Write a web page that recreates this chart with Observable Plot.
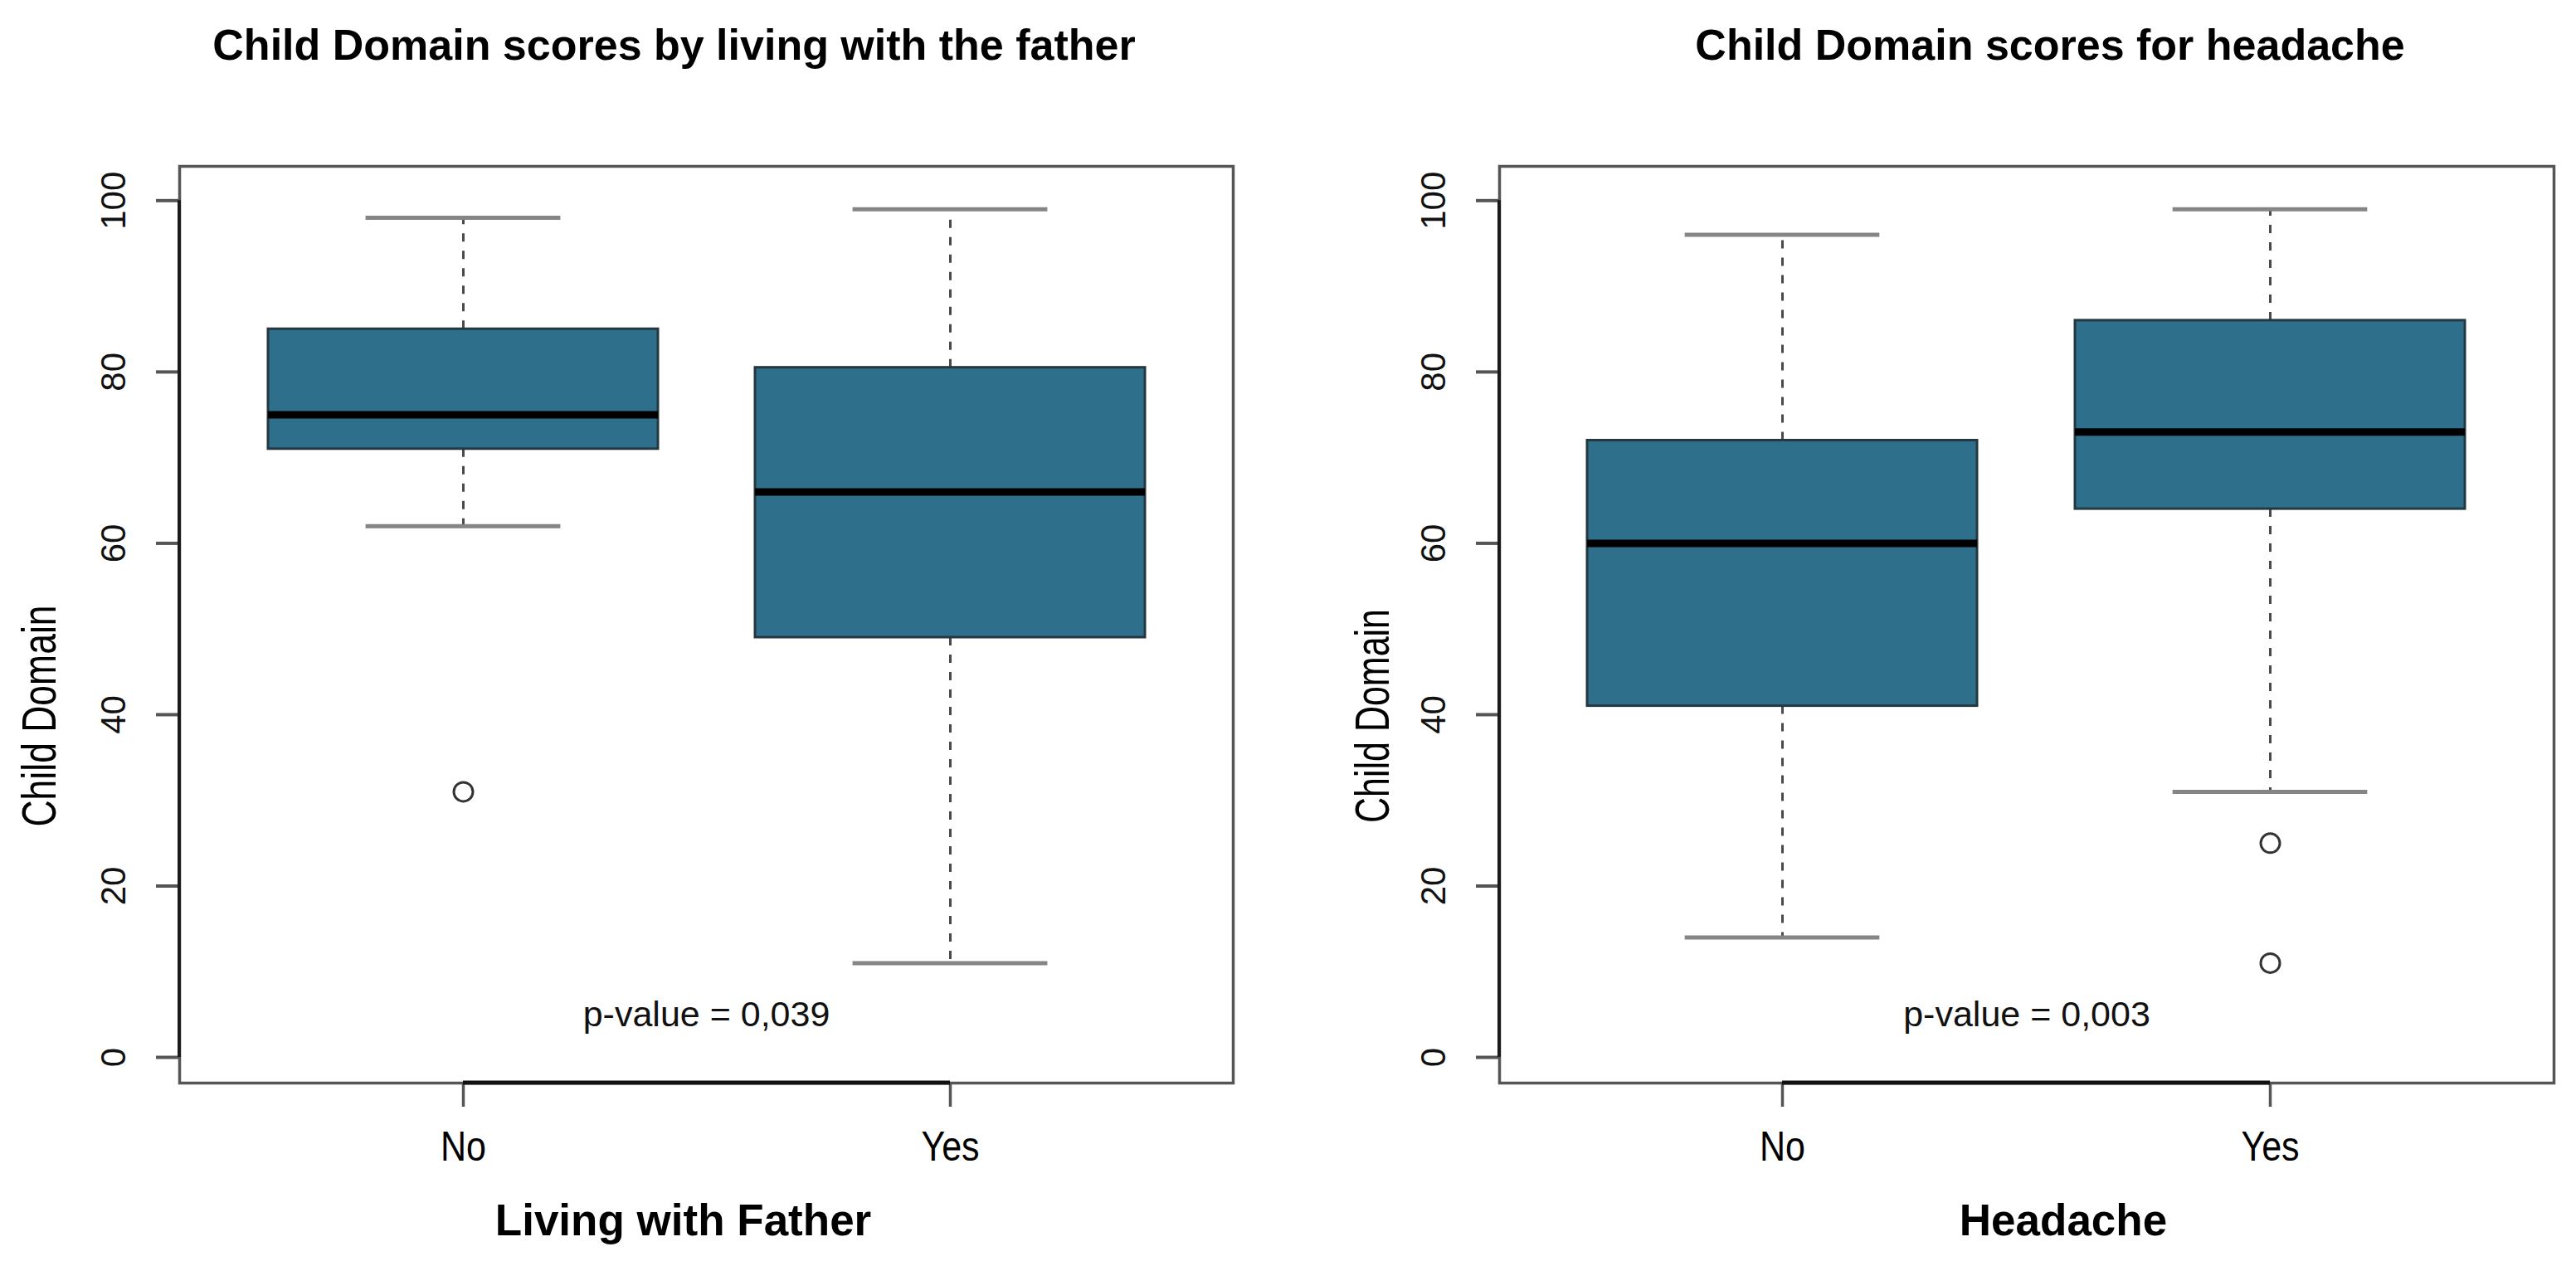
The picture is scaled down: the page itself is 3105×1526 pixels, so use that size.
<!DOCTYPE html>
<html><head><meta charset="utf-8">
<script src="https://cdn.jsdelivr.net/npm/d3@7"></script>
<script src="https://cdn.jsdelivr.net/npm/@observablehq/plot@0.6"></script>
<style>
html,body{margin:0;padding:0;background:#fff;}
#wrap{display:flex;width:3105px;height:1526px;overflow:hidden;}
#wrap svg{display:block;flex:none;}
</style></head>
<body><div id="wrap"></div>
<script>
// ---------- data ----------
const groups = ["No", "Yes"];
const yTicks = [0, 20, 40, 60, 80, 100];
const yLabel = "Child Domain";

const fatherTitle = "Child Domain scores by living with the father";
const fatherXLabel = "Living with Father";
const fatherPValue = "p-value = 0,039";
const fatherLower = [62, 11];
const fatherQ1 = [71, 49];
const fatherMedian = [75, 66];
const fatherQ3 = [85, 80.5];
const fatherUpper = [98, 99];
const fatherOutlierGroups = ["No"];
const fatherOutlierValues = [31];

const headacheTitle = "Child Domain scores for headache";
const headacheXLabel = "Headache";
const headachePValue = "p-value = 0,003";
const headacheLower = [14, 31];
const headacheQ1 = [41, 64];
const headacheMedian = [60, 73];
const headacheQ3 = [72, 86];
const headacheUpper = [96, 99];
const headacheOutlierGroups = ["Yes", "Yes"];
const headacheOutlierValues = [25, 11];

const pValueY = 5; // annotation position in data units

// ---------- drawing ----------
const H = 1526, MT = 200, MB = 221;
const FONT = "'Liberation Sans', Arial, Helvetica, sans-serif";

function panel(o) {
  const frameW = o.width - o.marginLeft - o.marginRight;
  const step = frameW / 2.16;
  const capInset = step * 0.2;
  const idx = d3.range(groups.length);
  const outIdx = d3.range(o.outG.length);
  const gx = i => groups[i];
  const chart = Plot.plot({
    width: o.width, height: H,
    marginTop: MT, marginBottom: MB, marginLeft: o.marginLeft, marginRight: o.marginRight,
    style: {fontFamily: FONT, background: "#fff", color: "#000", overflow: "visible"},
    x: {type: "band", domain: groups, paddingInner: 0.2, paddingOuter: 0.18},
    y: {domain: [-3, 104]},
    marks: [
      Plot.axisX({tickSize: 29, tickPadding: 29, fontSize: 50, stroke: "#555", strokeWidth: 3.5, color: "#000", label: null}),
      Plot.axisY({ticks: yTicks, tickSize: 28, tickFormat: () => "", stroke: "#555", strokeWidth: 4, label: null}),
      Plot.axisY({ticks: yTicks, tickSize: 0, tickPadding: 79, rotate: -90, textAnchor: "middle", lineAnchor: "middle",
                  fontSize: 42, color: "#111", label: null}),
      Plot.frame({stroke: "#555", strokeWidth: 3.5}),
      Plot.ruleX(idx, {x: gx, y1: i => o.q3[i], y2: i => o.upper[i], stroke: "#4a4a4a", strokeWidth: 3, strokeDasharray: "10,11"}),
      Plot.ruleX(idx, {x: gx, y1: i => o.q1[i], y2: i => o.lower[i], stroke: "#4a4a4a", strokeWidth: 3, strokeDasharray: "10,11"}),
      Plot.tickY(idx, {x: gx, y: i => o.upper[i], stroke: "#858585", strokeWidth: 5, insetLeft: capInset, insetRight: capInset}),
      Plot.tickY(idx, {x: gx, y: i => o.lower[i], stroke: "#858585", strokeWidth: 5, insetLeft: capInset, insetRight: capInset}),
      Plot.barY(idx, {x: gx, y1: i => o.q1[i], y2: i => o.q3[i], fill: "#2e6f8b", stroke: "#253840", strokeWidth: 3}),
      Plot.tickY(idx, {x: gx, y: i => o.median[i], stroke: "#000", strokeWidth: 9}),
      Plot.dot(outIdx, {x: i => o.outG[i], y: i => o.outV[i], r: 11.5, stroke: "#333", strokeWidth: 3, fill: "none"}),
      Plot.text([o.pValue], {y: () => pValueY, text: d => d, frameAnchor: "middle", fontSize: 43, fill: "#111"}),
      Plot.text([o.title], {text: d => d, frameAnchor: "top", textAnchor: "middle", dy: -145, dx: o.titleDx, fontSize: 52, fontWeight: "bold", lineAnchor: "middle", fill: "#000"}),
      Plot.text([o.xLabel], {text: d => d, frameAnchor: "bottom", textAnchor: "middle", dy: 167, dx: o.xLabelDx, fontSize: 53, fontWeight: "bold", lineAnchor: "middle", fill: "#000"}),
      Plot.text([yLabel], {text: d => d, frameAnchor: "left", textAnchor: "middle", dx: o.yLabelDx, dy: 110, rotate: -90, fontSize: 57, lineAnchor: "middle", fill: "#000"})
    ]
  });
  document.getElementById("wrap").appendChild(chart);

  // axis lines drawn through the chart's own scales (R-style: from first to last tick)
  const ys = chart.scale("y"), xs = chart.scale("x");
  const svg = d3.select(chart);
  const bw = xs.bandwidth || 0;
  svg.append("line")
    .attr("x1", o.marginLeft).attr("x2", o.marginLeft)
    .attr("y1", ys.apply(yTicks[0])).attr("y2", ys.apply(yTicks[yTicks.length - 1]))
    .attr("stroke", "#1a1a1a").attr("stroke-width", 4);
  const yb = ys.range[0];
  svg.append("line")
    .attr("x1", xs.apply(groups[0]) + bw / 2).attr("x2", xs.apply(groups[groups.length - 1]) + bw / 2)
    .attr("y1", yb).attr("y2", yb)
    .attr("stroke", "#111").attr("stroke-width", 5);

  // condensed regular text like the reference
  const fit = (el, L) => { el.setAttribute("textLength", L.toFixed(1)); el.setAttribute("lengthAdjust", "spacingAndGlyphs"); };
  svg.selectAll("text").each(function () {
    const t = this.textContent;
    if (t === yLabel) fit(this, o.yLabelLen);
    else if (groups.includes(t)) fit(this, this.getComputedTextLength() * 0.86);
  });
  return chart;
}

panel({
  width: 1552, marginLeft: 216, marginRight: 66,
  title: fatherTitle, xLabel: fatherXLabel, pValue: fatherPValue,
  lower: fatherLower, q1: fatherQ1, median: fatherMedian, q3: fatherQ3, upper: fatherUpper,
  outG: fatherOutlierGroups, outV: fatherOutlierValues,
  titleDx: -39, xLabelDx: -28, yLabelDx: -168, yLabelLen: 267
});
panel({
  width: 1553, marginLeft: 255, marginRight: 27,
  title: headacheTitle, xLabel: headacheXLabel, pValue: headachePValue,
  lower: headacheLower, q1: headacheQ1, median: headacheMedian, q3: headacheQ3, upper: headacheUpper,
  outG: headacheOutlierGroups, outV: headacheOutlierValues,
  titleDx: 28, xLabelDx: 44, yLabelDx: -152, yLabelLen: 258
});
</script>
</body></html>
